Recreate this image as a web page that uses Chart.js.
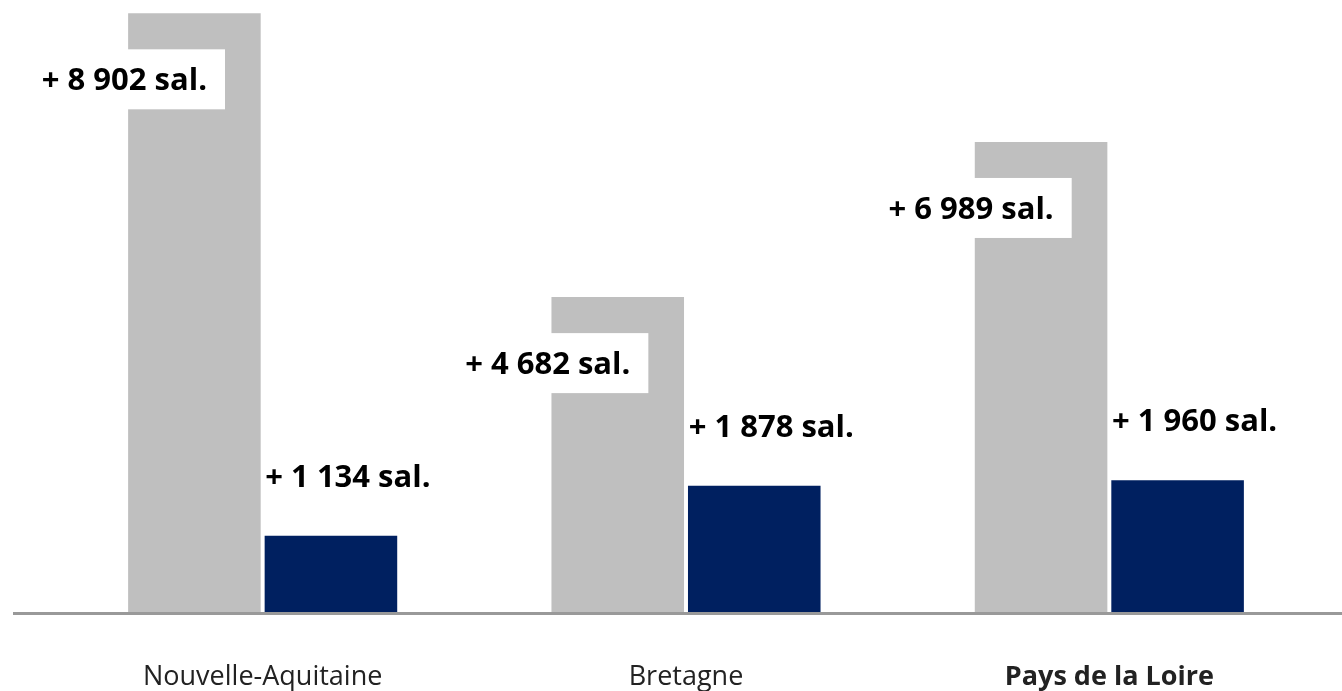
<!DOCTYPE html>
<html>
<head>
<meta charset="utf-8">
<script src="https://cdn.jsdelivr.net/npm/chart.js@4"></script>
<style>
    body { margin: 0; background: #fff; }
    #wrap { width: 1342px; height: 691px; position: relative; }
</style>
</head>
<body>
<div id="wrap"><canvas id="emploiChart"></canvas></div>
<script>
const regions = ['Nouvelle-Aquitaine', 'Bretagne', 'Pays de la Loire'];
const serieGrise = [8902, 4682, 6989];
const serieBleue = [1134, 1878, 1960];

function formatSal(v) {
    return '+ ' + String(v).replace(/\B(?=(\d{3})+(?!\d))/g, ' ') + ' sal.';
}

// etiquettes des barres + ligne d'axe
const etiquettes = {
    id: 'etiquettes',
    afterDatasetsDraw(chart) {
        const ctx = chart.ctx;
        const y0 = chart.scales.y.getPixelForValue(0);
        ctx.save();
        ctx.strokeStyle = '#999999';
        ctx.lineWidth = 3;
        ctx.beginPath();
        ctx.moveTo(13, y0 + 1.5);
        ctx.lineTo(chart.width, y0 + 1.5);
        ctx.stroke();

        ctx.font = 'bold 31px "Open Sans"';
        ctx.textAlign = 'center';
        ctx.textBaseline = 'middle';
        chart.data.datasets.forEach((ds, di) => {
            chart.getDatasetMeta(di).data.forEach((bar, i) => {
                const txt = formatSal(ds.data[i]);
                let x, y;
                if (di === 0) {
                    x = bar.x - 70;
                    y = bar.y + 66;
                    const w = ctx.measureText(txt).width + 36;
                    ctx.fillStyle = '#ffffff';
                    ctx.fillRect(x - w / 2, y - 30, w, 60);
                } else {
                    x = bar.x + 17;
                    y = bar.y - 60;
                }
                ctx.fillStyle = '#000000';
                ctx.fillText(txt, x, y + 2);
            });
        });
        ctx.restore();
    }
};

new Chart(document.getElementById('emploiChart').getContext('2d'), {
    type: 'bar',
    data: {
        labels: regions,
        datasets: [
            {
                label: 'Total',
                data: serieGrise,
                backgroundColor: '#BFBFBF',
                categoryPercentage: 0.645,
                barPercentage: 0.971
            },
            {
                label: 'Dont',
                data: serieBleue,
                backgroundColor: '#002060',
                categoryPercentage: 0.645,
                barPercentage: 0.971
            }
        ]
    },
    options: {
        responsive: true,
        maintainAspectRatio: false,
        animation: false,
        layout: { padding: { left: 51, right: 21, top: 0, bottom: 0 } },
        plugins: {
            legend: { display: false },
            tooltip: { enabled: false }
        },
        scales: {
            x: {
                grid: { display: false },
                border: { display: false },
                afterFit: (scale) => { scale.height = 79; },
                ticks: {
                    color: '#222222',
                    padding: 41,
                    maxRotation: 0,
                    font: (c) => ({
                        family: '"Open Sans"',
                        size: 27,
                        weight: c.index === 2 ? 'bold' : 'normal',
                        lineHeight: 1.2
                    })
                }
            },
            y: {
                display: false,
                min: 0,
                max: 9100
            }
        }
    },
    plugins: [etiquettes]
});
</script>
</body>
</html>
